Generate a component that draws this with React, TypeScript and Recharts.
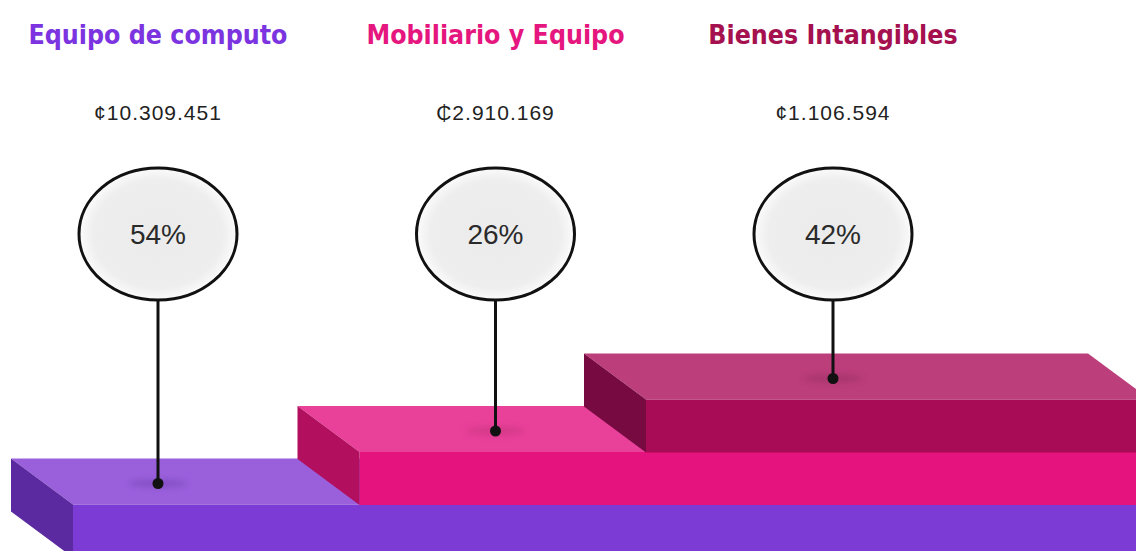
import React from 'react';
import { ComposedChart, Bar, Scatter, XAxis, YAxis } from 'recharts';

// ---- data ----
const categories = ['Equipo de computo', 'Mobiliario y Equipo', 'Bienes Intangibles'];
const amounts = [10309451, 2910169, 1106594];
const currencySymbols = ['¢', '₵', '¢'];
const percents = [54, 26, 42];
const levels = [1, 2, 3];

// ---- styles ----
const titleColors = ['#7b34e0', '#e5177f', '#a5104f'];
const stepColors = [
  { top: '#9a60dc', front: '#7d3bd6', side: '#5c2aa0', shadow: '#6a3aa8' },
  { top: '#e9409a', front: '#e5137d', side: '#b20f5e', shadow: '#b8306e' },
  { top: '#bc3e7b', front: '#a80c57', side: '#770a41', shadow: '#8e2a5a' },
];

const data = categories.map((name, i) => ({
  name,
  amount: amounts[i],
  symbol: currencySymbols[i],
  percent: percents[i],
  level: levels[i],
}));

const W = 1136;
const H = 551;
const DEPTH_X = 62;
const DEPTH_Y = 46;
const FACE_H = 53;
const BACK_RIGHT = W - 48;

const formatAmount = (v: number) => v.toString().replace(/\B(?=(\d{3})+(?!\d))/g, '.');

function StepShape(props: any) {
  const { x, y, index } = props;
  const c = stepColors[index];
  const fx = x + DEPTH_X;
  const fy = y + DEPTH_Y;
  return (
    <g>
      <polygon
        points={`${x},${y} ${BACK_RIGHT},${y} ${BACK_RIGHT + DEPTH_X},${fy} ${fx},${fy}`}
        fill={c.top}
      />
      <rect x={fx} y={fy} width={W - fx + 40} height={FACE_H} fill={c.front} />
      <polygon
        points={`${x},${y} ${fx},${fy} ${fx},${fy + FACE_H} ${x},${y + FACE_H}`}
        fill={c.side}
      />
    </g>
  );
}

function PinShape(props: any) {
  const { cx, cy, payload, index } = props;
  const CY = 234;
  const RX = 79;
  const RY = 66;
  const dotY = cy + 25;
  const gid = `bubble-grad-${index}`;
  const fid = `pin-blur-${index}`;
  return (
    <g>
      <defs>
        <radialGradient id={gid} cx="50%" cy="50%" r="50%">
          <stop offset="0%" stopColor="#ebebeb" />
          <stop offset="82%" stopColor="#eeeeee" />
          <stop offset="100%" stopColor="#fbfbfb" />
        </radialGradient>
        <filter id={fid} x="-50%" y="-200%" width="200%" height="500%">
          <feGaussianBlur stdDeviation="3" />
        </filter>
      </defs>
      <text
        x={cx}
        y={44}
        textAnchor="middle"
        fill={titleColors[index]}
        fontFamily="'DejaVu Sans Condensed', 'DejaVu Sans', sans-serif"
        fontStretch="condensed"
        fontWeight="bold"
        fontSize={26.5}
      >
        {payload.name}
      </text>
      <text
        x={cx}
        y={120}
        textAnchor="middle"
        fill="#222"
        fontFamily="'Liberation Sans', Arial, sans-serif"
        fontSize={21}
        letterSpacing={1}
      >
        {payload.symbol + formatAmount(payload.amount)}
      </text>
      <ellipse
        cx={cx}
        cy={dotY}
        rx={30}
        ry={4}
        fill={stepColors[index].shadow}
        opacity={0.45}
        filter={`url(#${fid})`}
      />
      <line x1={cx} y1={CY + RY} x2={cx} y2={dotY} stroke="#111" strokeWidth={3} />
      <circle cx={cx} cy={dotY} r={5.5} fill="#111" />
      <ellipse cx={cx} cy={CY} rx={RX} ry={RY} fill={`url(#${gid})`} stroke="#111" strokeWidth={3} />
      <text
        x={cx}
        y={CY + 10}
        textAnchor="middle"
        fill="#2a2a2a"
        fontFamily="'Liberation Sans', Arial, sans-serif"
        fontSize={28}
      >
        {payload.percent + '%'}
      </text>
    </g>
  );
}

export default function App() {
  return (
    <div style={{ position: 'absolute', left: 0, top: 0, width: W, height: H, background: '#fff' }}>
      <ComposedChart
        width={W}
        height={H}
        data={data}
        margin={{ top: 301, right: 265.5, bottom: 40, left: 11 }}
        barCategoryGap={0}
        barGap={0}
      >
        <XAxis xAxisId="steps" dataKey="name" type="category" hide />
        <XAxis
          xAxisId="cols"
          dataKey="name"
          type="category"
          scale="point"
          padding={{ left: 147, right: 37.5 }}
          hide
        />
        <YAxis type="number" domain={[0, 4]} hide />
        <Bar xAxisId="steps" dataKey="level" shape={<StepShape />} isAnimationActive={false} />
        <Scatter xAxisId="cols" dataKey="level" shape={<PinShape />} isAnimationActive={false} />
      </ComposedChart>
    </div>
  );
}
